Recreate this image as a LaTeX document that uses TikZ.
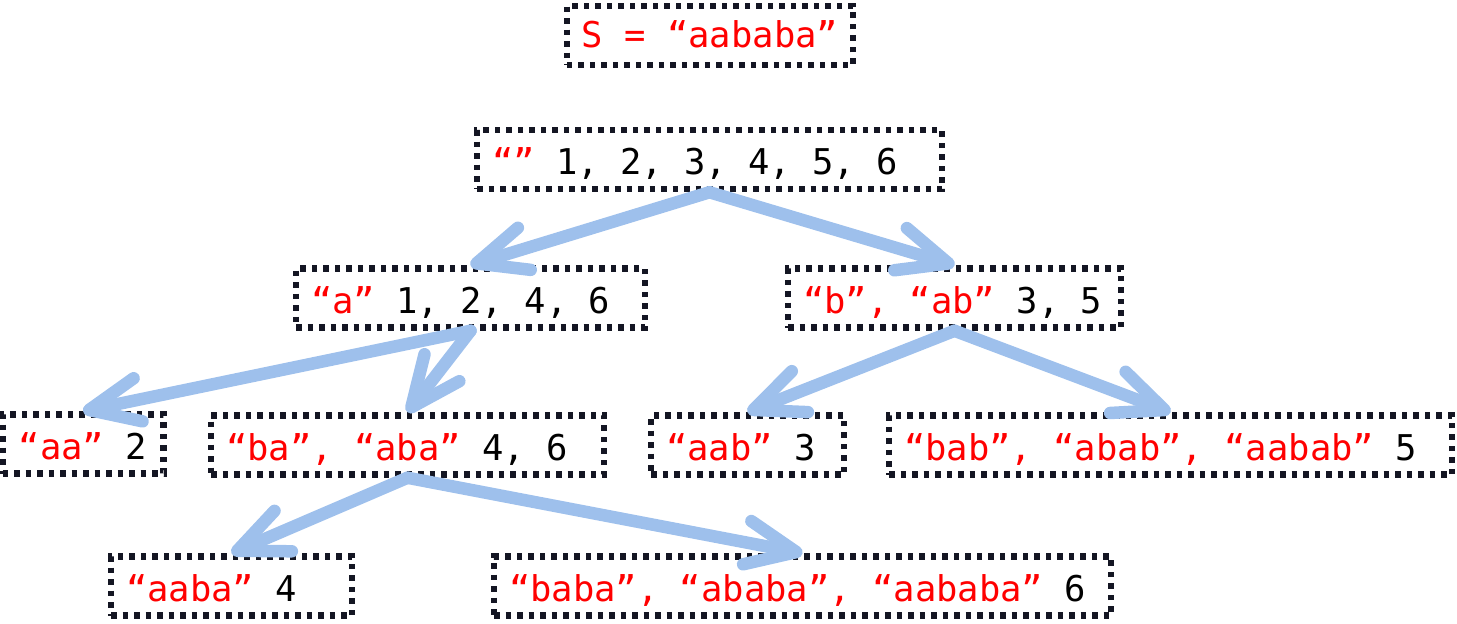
\documentclass[tikz,border=0pt]{standalone}
\usepackage{fontspec}
\setmonofont{DejaVu Sans Mono}
\usetikzlibrary{arrows.meta}
\definecolor{linkblue}{RGB}{158,192,236}
\definecolor{dotblack}{RGB}{20,22,35}
\newcommand{\substr}[1]{\textcolor{red}{#1}}
\newcommand{\fullspace}{\spaceskip 0pt\relax}
\tikzset{
  strbox/.style={draw=dotblack, line width=6.5pt, dash pattern=on 5.5pt off 6pt,
    inner xsep=15pt, inner ysep=0pt, minimum height=59pt, align=left,
    text height=33pt, text depth=3pt,
    font=\ttfamily\fontsize{35.5}{42}\selectfont\fullspace},
  link/.style={draw=linkblue, line width=12.5pt, line cap=round,
    -{Straight Barb[length=50pt,width=44pt,line cap=round,line join=round]}}
}
\begin{document}
\begin{tikzpicture}[x=1pt,y=-1pt]
  \useasboundingbox (0,0) rectangle (1457,624);
  % string and the suffix tree below it
  \node[strbox, minimum width=281pt, text height=26pt] (s) at (710,35.5) {\fullspace\substr{S = “aababa”}};
  \node[strbox, text width=435pt] (root) at (709.5,159.5) {\fullspace\substr{“”} 1, 2, 3, 4, 5, 6};
  \node[strbox, text width=319pt] (a) at (470.5,298) {\fullspace\substr{“a”} 1, 2, 4, 6};
  \node[strbox, text width=303pt] (b) at (954.5,298) {\fullspace\substr{“b”, “ab”} 3, 5};
  \node[strbox, minimum width=161pt] (aa) at (83,444) {\fullspace\substr{“aa”} 2};
  \node[strbox, text width=363pt] (ba) at (407.5,445) {\fullspace\substr{“ba”, “aba”} 4, 6};
  \node[strbox, text width=163pt] (aab) at (747.5,445) {\fullspace\substr{“aab”} 3};
  \node[strbox, text width=533pt] (bab) at (1170.5,445) {\fullspace\substr{“bab”, “abab”, “aabab”} 5};
  \node[strbox, text width=211pt] (aaba) at (231.5,586) {\fullspace\substr{“aaba”} 4};
  \node[strbox, text width=587pt] (baba) at (802.5,586) {\fullspace\substr{“baba”, “ababa”, “aababa”} 6};
  % edges
  \foreach \from/\to in {root/a, root/b, a/aa, a/ba, b/aab, b/bab, ba/aaba, ba/baba}
    \draw[link] (\from.south) -- (\to.north);
\end{tikzpicture}
\end{document}
